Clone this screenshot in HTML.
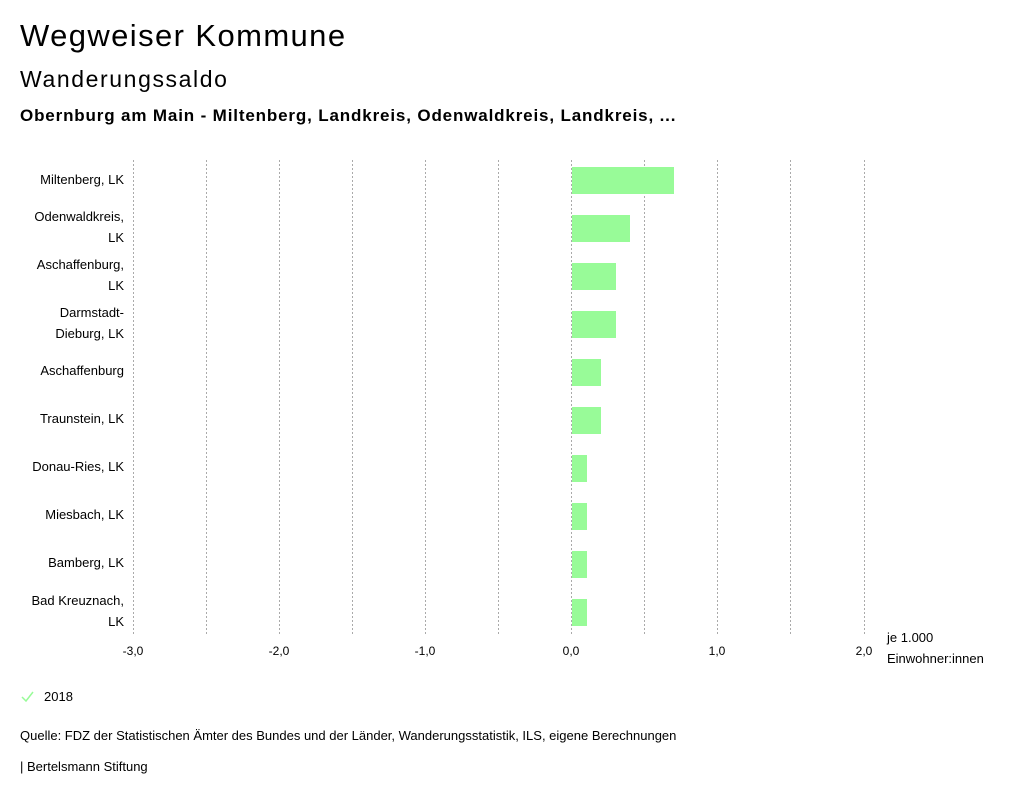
<!DOCTYPE html>
<html><head><meta charset="utf-8"><style>
body{margin:0;width:1024px;height:799px;background:#fff;font-family:"Liberation Sans",sans-serif;color:#000;position:relative;overflow:hidden}
.t{position:absolute;white-space:nowrap}
</style></head><body>
<div class="t" style="left:20px;top:18px;font-size:31px;letter-spacing:1.4px">Wegweiser Kommune</div>
<div class="t" style="left:20px;top:66px;font-size:23px;letter-spacing:1.6px">Wanderungssaldo</div>
<div class="t" style="left:20px;top:106px;font-size:17px;font-weight:bold;letter-spacing:0.85px">Obernburg am Main - Miltenberg, Landkreis, Odenwaldkreis, Landkreis, ...</div>
<svg width="1024" height="799" style="position:absolute;left:0;top:0" font-family="Liberation Sans Narrow, Liberation Sans, sans-serif" font-size="13">
<g stroke="#aaa" stroke-dasharray="2,2" stroke-width="1">
<line x1="133.5" y1="160" x2="133.5" y2="636"/><line x1="206.5" y1="160" x2="206.5" y2="636"/><line x1="279.5" y1="160" x2="279.5" y2="636"/><line x1="352.5" y1="160" x2="352.5" y2="636"/><line x1="425.5" y1="160" x2="425.5" y2="636"/><line x1="498.5" y1="160" x2="498.5" y2="636"/><line x1="571.5" y1="160" x2="571.5" y2="636"/><line x1="644.5" y1="160" x2="644.5" y2="636"/><line x1="717.5" y1="160" x2="717.5" y2="636"/><line x1="790.5" y1="160" x2="790.5" y2="636"/><line x1="864.5" y1="160" x2="864.5" y2="636"/>
</g>
<g fill="#98fb98">
<rect x="572" y="167" width="102" height="27"/>
<rect x="572" y="215" width="58" height="27"/>
<rect x="572" y="263" width="44" height="27"/>
<rect x="572" y="311" width="44" height="27"/>
<rect x="572" y="359" width="29" height="27"/>
<rect x="572" y="407" width="29" height="27"/>
<rect x="572" y="455" width="15" height="27"/>
<rect x="572" y="503" width="15" height="27"/>
<rect x="572" y="551" width="15" height="27"/>
<rect x="572" y="599" width="15" height="27"/>
</g>
<g text-anchor="end">
<text x="124" y="184">Miltenberg, LK</text>
<text x="124" y="221">Odenwaldkreis,</text><text x="124" y="242">LK</text>
<text x="124" y="269">Aschaffenburg,</text><text x="124" y="290">LK</text>
<text x="124" y="317">Darmstadt-</text><text x="124" y="338">Dieburg, LK</text>
<text x="124" y="375">Aschaffenburg</text>
<text x="124" y="423">Traunstein, LK</text>
<text x="124" y="471">Donau-Ries, LK</text>
<text x="124" y="519">Miesbach, LK</text>
<text x="124" y="567">Bamberg, LK</text>
<text x="124" y="605">Bad Kreuznach,</text><text x="124" y="626">LK</text>
</g>
<g text-anchor="middle" font-size="12">
<text x="133" y="655">-3,0</text><text x="279" y="655">-2,0</text><text x="425" y="655">-1,0</text><text x="571" y="655">0,0</text><text x="717" y="655">1,0</text><text x="864" y="655">2,0</text>
</g>
<text x="887" y="642">je 1.000</text><text x="887" y="663">Einwohner:innen</text>
<polyline points="22,697 26,701 33,692" fill="none" stroke="#98fb98" stroke-width="1.5"/>
<text x="44" y="701">2018</text>
<text x="20" y="740">Quelle: FDZ der Statistischen Ämter des Bundes und der Länder, Wanderungsstatistik, ILS, eigene Berechnungen</text>
<text x="20" y="771">| Bertelsmann Stiftung</text>
</svg>
</body></html>
